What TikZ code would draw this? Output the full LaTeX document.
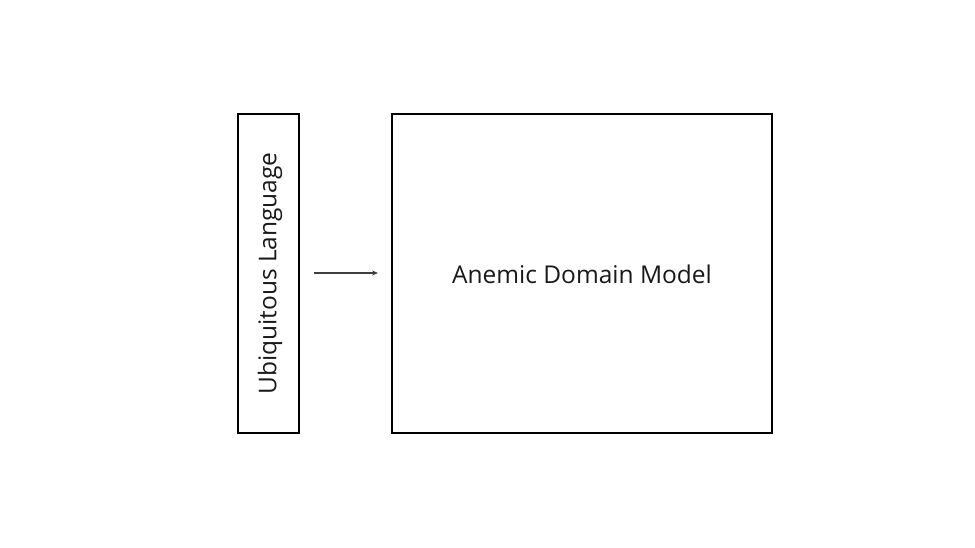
\documentclass[tikz,border=0pt]{standalone}
\usepackage{fontspec}
\setmainfont{Open Sans}
\usetikzlibrary{arrows.meta}
\begin{document}
\begin{tikzpicture}[x=1pt,y=-1pt,
  box/.style={draw=black,line width=1.3pt},
  lbl/.style={font=\fontsize{24.5}{28}\selectfont,text=black!90,inner sep=0pt},
  conn/.style={draw=black!75,line width=1.2pt,-{Stealth[length=6pt,width=5pt]}}]
\useasboundingbox (0,0) rectangle (975,548);
\draw[box] (238,114) rectangle (299,433);
\draw[box] (392,114) rectangle (772,433);
\node[lbl,rotate=90] (ul) at (270,273.5) {Ubiquitous Language};
\node[lbl] (adm) at (582,274) {Anemic Domain Model};
\coordinate (a1) at (314,273);
\coordinate (a2) at (378,273);
\draw[conn] (a1) -- (a2);
\end{tikzpicture}
\end{document}
